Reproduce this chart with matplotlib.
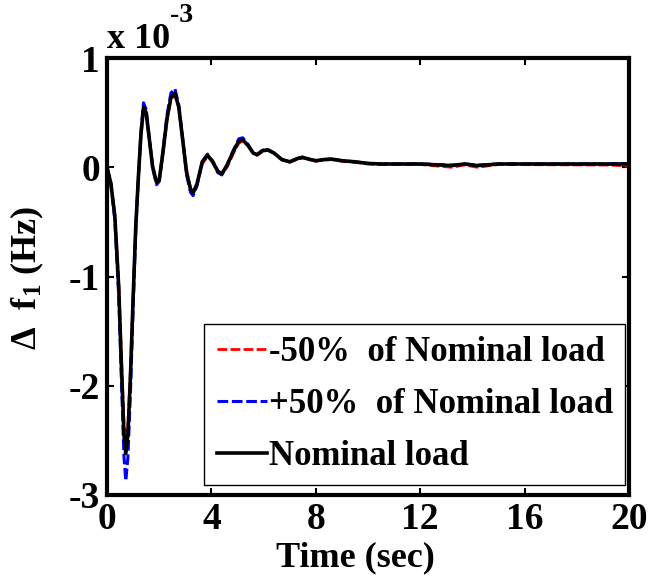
import matplotlib
matplotlib.use("Agg")
import matplotlib.pyplot as plt

plt.rcParams['font.family'] = ['Liberation Serif', 'DejaVu Serif']
plt.rcParams['font.weight'] = 'bold'
plt.rcParams['mathtext.fontset'] = 'custom'
plt.rcParams['mathtext.rm'] = 'Liberation Serif:bold'
plt.rcParams['mathtext.it'] = 'Liberation Serif:bold'
plt.rcParams['mathtext.bf'] = 'Liberation Serif:bold'

# time axis (sec), deviation values in units of 1e-3 Hz
time_s = [0, 0.15, 0.3, 0.45, 0.55, 0.65, 0.72, 0.8, 0.9, 1.0, 1.1, 1.2, 1.3,
          1.4, 1.5, 1.6, 1.75, 1.9, 2.0, 2.15, 2.3, 2.45, 2.6, 2.75, 2.9, 3.05,
          3.2, 3.3, 3.45, 3.65, 3.85, 4.05, 4.25, 4.4, 4.6, 4.85, 5.05, 5.2,
          5.4, 5.6, 5.75, 5.95, 6.15, 6.4, 6.7, 7.0, 7.3, 7.5, 7.8, 8.0, 8.3,
          8.6, 9.0, 9.5, 10.0, 10.5, 12.0, 13.2, 13.7, 14.2, 15.0, 19.3, 20.0]

nominal = [0, -0.15, -0.45, -1.1, -1.8, -2.45, -2.62, -2.45, -1.9, -1.2, -0.55,
           -0.1, 0.3, 0.55, 0.5, 0.3, 0.0, -0.14, -0.12, 0.15, 0.45, 0.64, 0.68,
           0.55, 0.25, -0.05, -0.2, -0.235, -0.15, 0.05, 0.11, 0.05, -0.04,
           -0.06, 0.02, 0.15, 0.24, 0.25, 0.2, 0.13, 0.115, 0.15, 0.16, 0.13,
           0.07, 0.05, 0.08, 0.09, 0.07, 0.06, 0.07, 0.075, 0.06, 0.05, 0.035,
           0.03, 0.03, 0.015, 0.03, 0.015, 0.03, 0.03, 0.03]

plus50 = [0, -0.16, -0.48, -1.18, -1.93, -2.65, -2.87, -2.66, -2.05, -1.3, -0.6,
          -0.1, 0.32, 0.59, 0.53, 0.31, -0.01, -0.16, -0.13, 0.16, 0.48, 0.68,
          0.72, 0.57, 0.26, -0.07, -0.23, -0.26, -0.17, 0.05, 0.12, 0.05,
          -0.05, -0.07, 0.02, 0.16, 0.26, 0.27, 0.21, 0.13, 0.115, 0.155,
          0.165, 0.13, 0.07, 0.05, 0.08, 0.095, 0.07, 0.06, 0.07, 0.075, 0.06,
          0.05, 0.035, 0.03, 0.03, 0.02, 0.03, 0.02, 0.03, 0.03, 0.035]

minus50 = [0, -0.14, -0.43, -1.05, -1.72, -2.35, -2.52, -2.38, -1.85, -1.17,
           -0.54, -0.1, 0.28, 0.53, 0.49, 0.3, 0.01, -0.13, -0.12, 0.13, 0.43,
           0.62, 0.66, 0.55, 0.26, -0.03, -0.19, -0.23, -0.16, 0.03, 0.1, 0.06,
           -0.03, -0.06, 0.0, 0.13, 0.22, 0.24, 0.2, 0.13, 0.11, 0.14, 0.155,
           0.13, 0.07, 0.045, 0.075, 0.085, 0.07, 0.055, 0.065, 0.07, 0.055,
           0.045, 0.03, 0.025, 0.025, 0.0, 0.02, 0.0, 0.025, 0.02, 0.01]

xticks = [0, 4, 8, 12, 16, 20]
yticks = [-3, -2, -1, 0, 1]

fig = plt.figure(figsize=(6.53, 5.84), dpi=100)
ax = fig.add_axes([107 / 653, 89 / 584, 522 / 653, 437 / 584])

ax.plot(time_s, minus50, color='red', linestyle='--', dashes=(3.5, 1.2),
        linewidth=2.0, label='-50%  of Nominal load')
ax.plot(time_s, plus50, color='blue', linestyle='--', dashes=(3.5, 1.2),
        linewidth=2.2, label='+50%  of Nominal load')
ax.plot(time_s, nominal, color='black', linewidth=2.6, label='Nominal load')

ax.set_xlim(0, 20)
ax.set_ylim(-3, 1)
ax.set_xticks(xticks)
ax.set_yticks(yticks)
ax.set_xticklabels([str(v) for v in xticks])
ax.set_yticklabels([str(v) for v in yticks])
ax.tick_params(direction='in', top=True, right=True, length=5, width=1.5,
               labelsize=27, pad=5)
for sp in ax.spines.values():
    sp.set_linewidth(3)

ax.set_xlabel('Time (sec)', fontsize=26, fontweight='bold', labelpad=0)
ax.xaxis.set_label_coords((355 - 107) / 522, -0.105)
ax.set_ylabel('\u0394  f$_{1}$ (Hz)', fontsize=26, fontweight='bold')
ax.yaxis.set_label_coords((46 - 107) / 522, (495 - 278) / 437)

fig.text(107 / 653, 1 - 48 / 584, 'x 10', fontsize=26, fontweight='bold',
         ha='left', va='baseline')
fig.text(170 / 653, 1 - 22 / 584, '-3', fontsize=20, fontweight='bold',
         ha='left', va='baseline')

leg = ax.legend(loc='lower right', bbox_to_anchor=(625 / 653, 99 / 584),
                bbox_transform=fig.transFigure, borderaxespad=0,
                fancybox=False, framealpha=1, edgecolor='black',
                fontsize=25, handlelength=1.45, handletextpad=0.05,
                labelspacing=0.55, borderpad=0.35)
leg.get_frame().set_linewidth(1.0)

fig.savefig('out.png', dpi=100)
